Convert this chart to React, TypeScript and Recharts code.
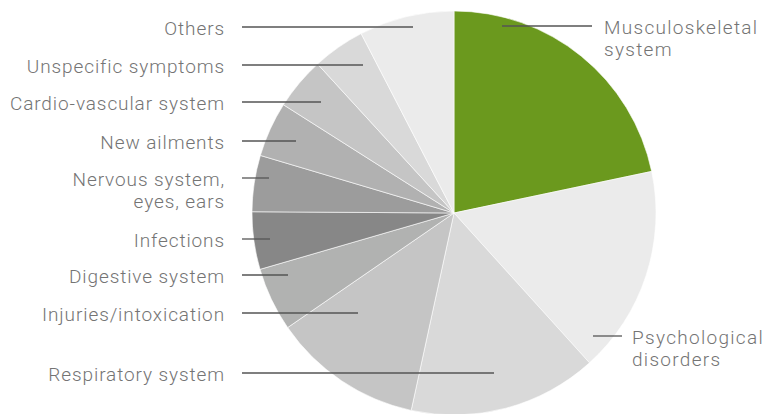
import { PieChart, Pie, Cell } from 'recharts';

// Shares of cases by diagnosis group (percent)
const categories = [
  'Musculoskeletal system',
  'Psychological disorders',
  'Respiratory system',
  'Injuries/intoxication',
  'Digestive system',
  'Infections',
  'Nervous system, eyes, ears',
  'New ailments',
  'Cardio-vascular system',
  'Unspecific symptoms',
  'Others',
];
const shares = [21.7, 16.6, 15.1, 12.0, 5.1, 4.6, 4.5, 4.4, 4.2, 4.2, 7.6];
const labelLines = [
  ['Musculoskeletal', 'system'],
  ['Psychological', 'disorders'],
  ['Respiratory system'],
  ['Injuries/intoxication'],
  ['Digestive system'],
  ['Infections'],
  ['Nervous system,', 'eyes, ears'],
  ['New ailments'],
  ['Cardio-vascular system'],
  ['Unspecific symptoms'],
  ['Others'],
];

const colors = [
  '#6b991e',
  '#ebebeb',
  '#d9d9d9',
  '#c5c5c5',
  '#b1b2b1',
  '#878787',
  '#9c9c9c',
  '#b1b1b1',
  '#c5c5c5',
  '#d9d9d9',
  '#ebebeb',
];

// leader line placement relative to the pie centre
const labelLayout = [
  { side: 'right', dy: -187, from: 48, to: 138, textDx: 150 },
  { side: 'right', dy: 123, from: 139, to: 168, textDx: 178 },
  { side: 'left', dy: 160, to: 40 },
  { side: 'left', dy: 100, to: -96 },
  { side: 'left', dy: 62, to: -166 },
  { side: 'left', dy: 26, to: -184 },
  { side: 'left', dy: -35, to: -185 },
  { side: 'left', dy: -72, to: -158 },
  { side: 'left', dy: -111, to: -133 },
  { side: 'left', dy: -148, to: -91 },
  { side: 'left', dy: -186, to: -41 },
];

const data = categories.map((name, i) => ({ name, value: shares[i] }));

const FONT = "Roboto, 'Noto Sans', sans-serif";
const TEXT = '#747474';
const LINE = '#555555';

const renderLabel = (props: any) => {
  const { cx, cy, index } = props;
  const l = labelLayout[index];
  const lines = labelLines[index];
  const y = cy + l.dy;
  const left = l.side === 'left';
  const x1 = left ? cx - 212 : cx + (l.from as number);
  const x2 = cx + l.to;
  const tx = left ? cx - 229 : cx + (l.textDx as number);
  return (
    <g key={`lab-${index}`}>
      <line x1={x1} y1={y} x2={x2} y2={y} stroke={LINE} strokeWidth={1.3} />
      <text
        x={tx}
        y={y + 7.5}
        textAnchor={left ? 'end' : 'start'}
        fill={TEXT}
        fontFamily={FONT}
        fontWeight={300}
        fontSize={19}
        letterSpacing={left ? 0.9 : 1.3}
      >
        {lines.map((t, k) => (
          <tspan key={k} x={tx} dy={k === 0 ? 0 : 22.5}>
            {t}
          </tspan>
        ))}
      </text>
    </g>
  );
};

export default function App() {
  return (
    <div style={{ position: 'absolute', left: 0, top: 0, width: 764, height: 414, background: '#fff' }}>
      <PieChart width={764} height={414} margin={{ top: 0, right: 0, bottom: 0, left: 0 }}>
        <Pie
          data={data}
          dataKey="value"
          nameKey="name"
          cx={454}
          cy={213}
          outerRadius={202}
          startAngle={90}
          endAngle={-270}
          stroke="#ffffff"
          strokeWidth={0.6}
          label={renderLabel}
          labelLine={false}
          isAnimationActive={false}
        >
          {data.map((d, i) => (
            <Cell key={d.name} fill={colors[i]} />
          ))}
        </Pie>
      </PieChart>
    </div>
  );
}
